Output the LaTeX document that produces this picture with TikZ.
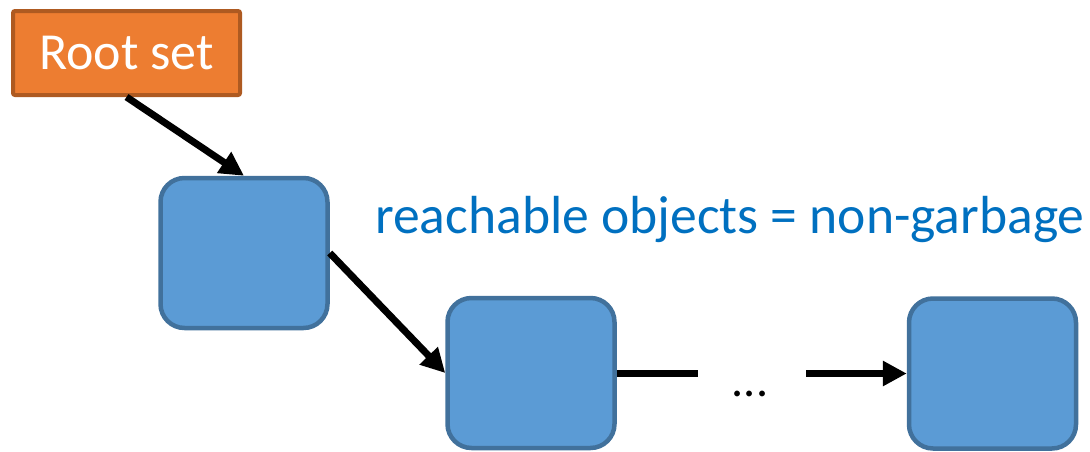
\documentclass[tikz,border=0pt]{standalone}
\usepackage{fontspec}
\setmainfont{Carlito}
\usetikzlibrary{arrows.meta}
\definecolor{rootfill}{HTML}{ED7D31}
\definecolor{rootdraw}{HTML}{AE5A21}
\definecolor{objfill}{HTML}{5B9BD5}
\definecolor{objdraw}{HTML}{41719C}
\definecolor{txtblue}{HTML}{0070C0}
\begin{document}
\begin{tikzpicture}[x=1pt,y=-1pt,
  rootbox/.style={draw=rootdraw,fill=rootfill,line width=4pt,rounded corners=2pt,
    minimum width=227pt,minimum height=84pt,inner sep=0pt,text=white,
    font=\fontsize{52}{62}\selectfont},
  objbox/.style={draw=objdraw,fill=objfill,line width=4.5pt,rounded corners=24pt,
    minimum width=167pt,minimum height=150pt,inner sep=0pt},
  conn/.style={line width=7pt,black},
  arr/.style={conn,-{Triangle[length=24pt,width=24pt]}}]
\useasboundingbox (0,0) rectangle (1090,451);
\node[rootbox] (root) at (126.5,53) {Root set};
\node[objbox] (b1) at (244,253) {};
\node[objbox] (b2) at (531,373) {};
\node[objbox] (b3) at (992.5,373.5) {};
\node[anchor=base west,inner sep=0pt,text=txtblue,font=\fontsize{53.6}{64}\selectfont]
  (lbl) at (375,233) {reachable objects = non-garbage};
\node[anchor=base,inner sep=0pt,font=\fontsize{48}{58}\selectfont] (dots) at (750,396) {...};
\coordinate (c1) at (698,373);
\coordinate (c2) at (806,373.5);
\draw[arr] (root.south) -- (b1.north);
\draw[arr] (b1.east) -- (b2.west);
\draw[conn] (b2.east) -- (c1);
\draw[arr] (c2) -- (b3.west);
\end{tikzpicture}
\end{document}
